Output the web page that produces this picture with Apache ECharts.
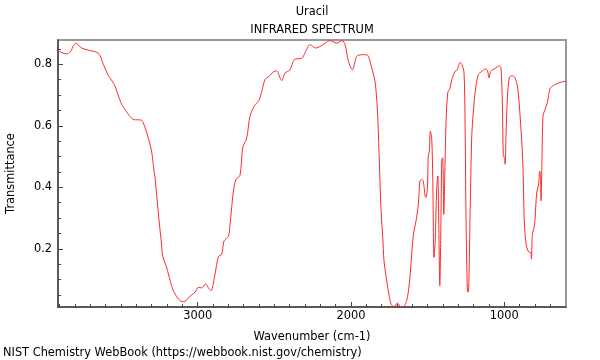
<!DOCTYPE html>
<html>
<head>
<meta charset="utf-8">
<script src="https://cdn.jsdelivr.net/npm/echarts@6/dist/echarts.min.js"></script>
<style>html,body{margin:0;padding:0;background:#fff}#c{width:600px;height:360px}</style>
</head>
<body>
<div id="c"></div>
<script>
const wavenumbers = [3911,3886,3854,3832,3795,3756,3713,3648,3615,3583,3544,3500,3463,3415,3370,3355,3326,3300,3285,3278,3257,3235,3228,3206,3185,3163,3126,3094,3076,3050,3017,2996,2974,2948,2930,2913,2887,2865,2843,2828,2800,2789,2767,2750,2724,2706,2680,2659,2632,2600,2582,2561,2535,2507,2485,2463,2452,2430,2398,2370,2321,2300,2267,2230,2202,2169,2137,2093,2057,2039,2017,1991,1963,1930,1897,1865,1843,1828,1817,1804,1793,1785,1772,1757,1739,1719,1698,1676,1659,1637,1620,1604,1593,1576,1561,1550,1539,1528,1517,1511,1502,1496,1489,1483,1474,1467,1459,1452,1441,1434,1428,1421,1415,1408,1402,1395,1389,1380,1369,1354,1343,1322,1307,1289,1276,1263,1256,1250,1241,1235,1224,1213,1202,1187,1170,1147,1126,1111,1100,1089,1061,1033,1022,1013,1007,1000,995,989,980,967,948,930,913,898,880,870,858,843,828,824,817,806,800,789,778,769,763,761,754,748,735,720,702,680,648,604,598];
const transmittance = [0.845,0.838,0.834,0.840,0.868,0.853,0.846,0.836,0.799,0.764,0.734,0.675,0.645,0.620,0.619,0.610,0.567,0.515,0.453,0.431,0.318,0.210,0.175,0.145,0.107,0.069,0.037,0.028,0.032,0.046,0.059,0.075,0.073,0.086,0.073,0.064,0.118,0.174,0.183,0.226,0.240,0.280,0.388,0.426,0.439,0.529,0.561,0.631,0.664,0.683,0.712,0.750,0.761,0.775,0.779,0.756,0.747,0.772,0.782,0.815,0.820,0.837,0.864,0.853,0.858,0.869,0.877,0.869,0.877,0.864,0.810,0.782,0.826,0.831,0.831,0.788,0.742,0.653,0.507,0.323,0.237,0.161,0.113,0.064,0.021,0.012,0.024,0.012,0.012,0.032,0.086,0.183,0.248,0.291,0.345,0.421,0.426,0.418,0.372,0.367,0.399,0.502,0.518,0.583,0.561,0.431,0.172,0.215,0.399,0.437,0.291,0.080,0.237,0.491,0.496,0.312,0.431,0.615,0.707,0.723,0.750,0.777,0.782,0.806,0.799,0.772,0.600,0.300,0.062,0.059,0.300,0.561,0.648,0.723,0.766,0.777,0.785,0.781,0.756,0.777,0.786,0.795,0.788,0.669,0.507,0.496,0.475,0.572,0.691,0.758,0.763,0.756,0.723,0.637,0.486,0.291,0.215,0.191,0.188,0.167,0.248,0.269,0.296,0.383,0.405,0.453,0.410,0.356,0.507,0.631,0.653,0.675,0.721,0.731,0.739,0.745,0.746];
const xMajorTicks = [1000, 2000, 3000];
const xMinorTicks = [700,800,900,1100,1200,1300,1400,1500,1600,1700,1800,1900,2100,2200,2300,2400,2500,2600,2700,2800,2900,3100,3200,3300,3400,3500,3600,3700,3800,3900];
const yMajorTicks = [0.2, 0.4, 0.6, 0.8];
const yMinorTicks = [0.05,0.1,0.15,0.25,0.3,0.35,0.45,0.5,0.55,0.65,0.7,0.75,0.85];
const titleText = 'Uracil';
const subTitleText = 'INFRARED SPECTRUM';
const footerText = 'NIST Chemistry WebBook (https://webbook.nist.gov/chemistry)';

const FONT = 'DejaVu Sans';
const FS = 11.4;
const X_MIN = 598, X_MAX = 3911, Y_MIN = 0.011, Y_MAX = 0.879;
const chart = echarts.init(document.getElementById('c'), null, {renderer: 'canvas'});
const data = wavenumbers.map((w, i) => [w, transmittance[i]]);
const baseX = {type: 'value', min: X_MIN, max: X_MAX, inverse: true, position: 'bottom', splitLine: {show: false}, gridIndex: 0};
const baseY = {type: 'value', min: Y_MIN, max: Y_MAX, position: 'left', splitLine: {show: false}, gridIndex: 0};
chart.setOption({
  animation: false,
  grid: {left: 58, right: 34, top: 40, bottom: 53, containLabel: false, outerBoundsMode: 'none', show: true, borderColor: '#999', borderWidth: 2, backgroundColor: 'transparent'},
  xAxis: [
    Object.assign({}, baseX, {
      name: 'Wavenumber (cm-1)', nameLocation: 'middle', nameGap: 25,
      nameTextStyle: {fontFamily: FONT, fontSize: FS, color: '#000'},
      axisLine: {show: true, lineStyle: {color: '#444', width: 1.5}},
      axisTick: {show: true, inside: true, length: 5, customValues: xMajorTicks, lineStyle: {color: '#444'}},
      axisLabel: {show: true, customValues: xMajorTicks, margin: 4, fontFamily: FONT, fontSize: FS, color: '#000', formatter: v => String(Math.round(v))}
    }),
    Object.assign({}, baseX, {
      axisLine: {show: false, onZero: false},
      axisTick: {show: true, inside: true, length: 3, customValues: xMinorTicks, lineStyle: {color: '#444'}},
      axisLabel: {show: false}
    })
  ],
  yAxis: [
    Object.assign({}, baseY, {
      name: 'Transmittance', nameLocation: 'middle', nameGap: 41, nameRotate: 90,
      nameTextStyle: {fontFamily: FONT, fontSize: FS, color: '#000'},
      axisLine: {show: true, lineStyle: {color: '#444', width: 1.5}},
      axisTick: {show: true, inside: true, length: 5, customValues: yMajorTicks, lineStyle: {color: '#444'}},
      axisLabel: {show: true, customValues: yMajorTicks, margin: 6, fontFamily: FONT, fontSize: FS, color: '#000', formatter: v => v.toFixed(1)}
    }),
    Object.assign({}, baseY, {
      axisLine: {show: false, onZero: false},
      axisTick: {show: true, inside: true, length: 3, customValues: yMinorTicks, lineStyle: {color: '#444'}},
      axisLabel: {show: false}
    })
  ],
  series: [{
    type: 'line', xAxisIndex: 0, yAxisIndex: 0, data: data, showSymbol: false, smooth: 0.3,
    lineStyle: {color: '#ff2a2a', width: 1}, clip: true
  }],
  graphic: [
    {type: 'text', x: 312, y: 12, style: {text: titleText, font: FS + 'px "DejaVu Sans"', fill: '#000', align: 'center', verticalAlign: 'middle'}},
    {type: 'text', x: 312, y: 30, style: {text: subTitleText, font: FS + 'px "DejaVu Sans"', fill: '#000', align: 'center', verticalAlign: 'middle'}},
    {type: 'text', x: 3, y: 353, style: {text: footerText, font: FS + 'px "DejaVu Sans"', fill: '#000', align: 'left', verticalAlign: 'middle'}}
  ]
});
</script>
</body>
</html>
